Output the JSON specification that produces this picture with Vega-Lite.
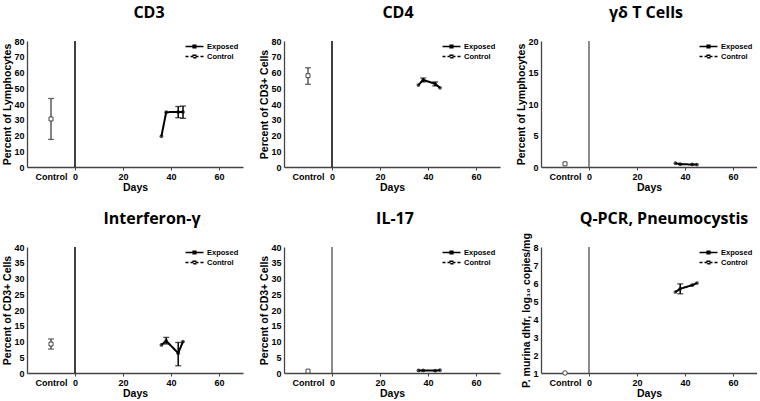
{
  "$schema": "https://vega.github.io/schema/vega-lite/v6.json",
  "padding": {"left": 2, "top": 5, "right": 0, "bottom": 0},
  "background": "white",
  "bounds": "flush",
  "columns": 3,
  "spacing": {"row": 80, "column": 41},
  "datasets": {
    "d": [
      {"p": "CD3", "s": "Control", "day": -10, "v": 30.5, "lo": 17.5, "hi": 43.5},
      {"p": "CD3", "s": "Exposed", "day": 36, "v": 19.5},
      {"p": "CD3", "s": "Exposed", "day": 38, "v": 34.8},
      {"p": "CD3", "s": "Exposed", "day": 43, "v": 35, "lo": 31.3, "hi": 38.4},
      {"p": "CD3", "s": "Exposed", "day": 45, "v": 35, "lo": 30.9, "hi": 38.7},
      {"p": "CD4", "s": "Control", "day": -10, "v": 58, "lo": 52.5, "hi": 63},
      {"p": "CD4", "s": "Exposed", "day": 36, "v": 52},
      {"p": "CD4", "s": "Exposed", "day": 38, "v": 55.3, "lo": 54, "hi": 56.5},
      {"p": "CD4", "s": "Exposed", "day": 43, "v": 52.8, "lo": 51.5, "hi": 54},
      {"p": "CD4", "s": "Exposed", "day": 45, "v": 50.3},
      {"p": "GD", "s": "Control", "day": -10, "v": 0.5},
      {"p": "GD", "s": "Exposed", "day": 36, "v": 0.6},
      {"p": "GD", "s": "Exposed", "day": 38, "v": 0.45},
      {"p": "GD", "s": "Exposed", "day": 43, "v": 0.4},
      {"p": "GD", "s": "Exposed", "day": 45, "v": 0.38},
      {"p": "IFN", "s": "Control", "day": -10, "v": 9.2, "lo": 7.6, "hi": 10.8},
      {"p": "IFN", "s": "Exposed", "day": 36, "v": 8.9},
      {"p": "IFN", "s": "Exposed", "day": 38, "v": 10.2, "lo": 9.2, "hi": 11.3},
      {"p": "IFN", "s": "Exposed", "day": 43, "v": 6.3, "lo": 2.3, "hi": 9.7},
      {"p": "IFN", "s": "Exposed", "day": 45, "v": 10},
      {"p": "IL17", "s": "Control", "day": -10, "v": 0.6},
      {"p": "IL17", "s": "Exposed", "day": 36, "v": 0.8},
      {"p": "IL17", "s": "Exposed", "day": 38, "v": 0.8},
      {"p": "IL17", "s": "Exposed", "day": 43, "v": 0.75},
      {"p": "IL17", "s": "Exposed", "day": 45, "v": 0.9},
      {"p": "QPCR", "s": "Control", "day": -10, "v": 1.0},
      {"p": "QPCR", "s": "Exposed", "day": 36, "v": 5.5},
      {"p": "QPCR", "s": "Exposed", "day": 38, "v": 5.68, "lo": 5.4, "hi": 5.95},
      {"p": "QPCR", "s": "Exposed", "day": 43, "v": 5.88},
      {"p": "QPCR", "s": "Exposed", "day": 45, "v": 6.0}
    ]
  },
  "concat": [
    {
      "title": {"text": "CD3", "dx": 14},
      "width": 216, "height": 126,
      "data": {"name": "d"},
      "transform": [{"filter": "datum.p === 'CD3'"}],
      "encoding": {"x": {"field": "day", "type": "quantitative", "scale": {"domain": [-20, 70], "nice": false, "zero": false}, "axis": {"title": "Days", "values": [-10, 0, 20, 40, 60], "labelExpr": "datum.value === -10 ? 'Control' : datum.label", "tickOpacity": {"condition": {"test": "datum.value === -10", "value": 0}, "value": 1}}}},
      "layer": [
        {"data": {"values": [{"day": 0}]}, "mark": {"type": "rule", "color": "black", "strokeWidth": 1.5}, "encoding": {}},
        {"transform": [{"filter": "isValid(datum.lo)"}], "mark": {"type": "rule"}, "encoding": {"y": {"field": "lo", "type": "quantitative", "scale": {"domain": [0, 80], "nice": false}, "axis": {"title": "Percent of Lymphocytes", "values": [0, 10, 20, 30, 40, 50, 60, 70, 80], "labelOverlap": false}}, "y2": {"field": "hi"}, "color": {"condition": {"test": "datum.s === 'Control'", "value": "#333"}, "value": "black"}, "strokeWidth": {"condition": {"test": "datum.s === 'Control'", "value": 1.2}, "value": 1.5}}},
        {"transform": [{"filter": "isValid(datum.lo)"}, {"fold": ["lo", "hi"], "as": ["k", "ev"]}], "mark": {"type": "tick", "orient": "horizontal", "size": 6, "thickness": 1.3}, "encoding": {"y": {"field": "ev", "type": "quantitative", "scale": {"domain": [0, 80], "nice": false}, "axis": {"title": "Percent of Lymphocytes", "values": [0, 10, 20, 30, 40, 50, 60, 70, 80], "labelOverlap": false}}, "color": {"condition": {"test": "datum.s === 'Control'", "value": "#333"}, "value": "black"}}},
        {"mark": {"type": "line", "color": "black", "strokeWidth": 2}, "encoding": {"y": {"field": "v", "type": "quantitative", "scale": {"domain": [0, 80], "nice": false}, "axis": {"title": "Percent of Lymphocytes", "values": [0, 10, 20, 30, 40, 50, 60, 70, 80], "labelOverlap": false}}, "strokeDash": {"field": "s", "type": "nominal", "scale": {"domain": ["Exposed", "Control"], "range": [[1, 0], [3, 2]]}, "legend": {"title": null, "orient": "none", "legendX": 162, "legendY": 0, "symbolType": "M-2,0H2M-0.3,-0.3H0.3V0.3H-0.3Z", "symbolSize": 81, "encode": {"symbols": {"update": {"fill": {"signal": "datum.value === 'Exposed' ? 'black' : 'white'"}, "stroke": {"value": "black"}, "strokeWidth": {"value": 1.5}, "opacity": {"value": 1}}}}}}}},
        {"transform": [{"filter": "datum.s === 'Exposed'"}], "mark": {"type": "point", "filled": true, "shape": "circle", "color": "black", "size": 14}, "encoding": {"y": {"field": "v", "type": "quantitative", "scale": {"domain": [0, 80], "nice": false}, "axis": {"title": "Percent of Lymphocytes", "values": [0, 10, 20, 30, 40, 50, 60, 70, 80], "labelOverlap": false}}}},
        {"transform": [{"filter": "datum.s === 'Control'"}], "mark": {"type": "point", "filled": true, "shape": "square", "fill": "white", "stroke": "#444", "strokeWidth": 1, "size": 16, "opacity": 1}, "encoding": {"y": {"field": "v", "type": "quantitative", "scale": {"domain": [0, 80], "nice": false}, "axis": {"title": "Percent of Lymphocytes", "values": [0, 10, 20, 30, 40, 50, 60, 70, 80], "labelOverlap": false}}}}
      ]
    },
    {
      "title": {"text": "CD4", "dx": 6},
      "width": 216, "height": 126,
      "data": {"name": "d"},
      "transform": [{"filter": "datum.p === 'CD4'"}],
      "encoding": {"x": {"field": "day", "type": "quantitative", "scale": {"domain": [-20, 70], "nice": false, "zero": false}, "axis": {"title": "Days", "values": [-10, 0, 20, 40, 60], "labelExpr": "datum.value === -10 ? 'Control' : datum.label", "tickOpacity": {"condition": {"test": "datum.value === -10", "value": 0}, "value": 1}}}},
      "layer": [
        {"data": {"values": [{"day": 0}]}, "mark": {"type": "rule", "color": "black", "strokeWidth": 1.5}, "encoding": {}},
        {"transform": [{"filter": "isValid(datum.lo)"}], "mark": {"type": "rule"}, "encoding": {"y": {"field": "lo", "type": "quantitative", "scale": {"domain": [0, 80], "nice": false}, "axis": {"title": "Percent of CD3+ Cells", "values": [0, 10, 20, 30, 40, 50, 60, 70, 80], "labelOverlap": false}}, "y2": {"field": "hi"}, "color": {"condition": {"test": "datum.s === 'Control'", "value": "#333"}, "value": "black"}, "strokeWidth": {"condition": {"test": "datum.s === 'Control'", "value": 1.2}, "value": 1.5}}},
        {"transform": [{"filter": "isValid(datum.lo)"}, {"fold": ["lo", "hi"], "as": ["k", "ev"]}], "mark": {"type": "tick", "orient": "horizontal", "size": 6, "thickness": 1.3}, "encoding": {"y": {"field": "ev", "type": "quantitative", "scale": {"domain": [0, 80], "nice": false}, "axis": {"title": "Percent of CD3+ Cells", "values": [0, 10, 20, 30, 40, 50, 60, 70, 80], "labelOverlap": false}}, "color": {"condition": {"test": "datum.s === 'Control'", "value": "#333"}, "value": "black"}}},
        {"mark": {"type": "line", "color": "black", "strokeWidth": 2}, "encoding": {"y": {"field": "v", "type": "quantitative", "scale": {"domain": [0, 80], "nice": false}, "axis": {"title": "Percent of CD3+ Cells", "values": [0, 10, 20, 30, 40, 50, 60, 70, 80], "labelOverlap": false}}, "strokeDash": {"field": "s", "type": "nominal", "scale": {"domain": ["Exposed", "Control"], "range": [[1, 0], [3, 2]]}, "legend": {"title": null, "orient": "none", "legendX": 162, "legendY": 0, "symbolType": "M-2,0H2M-0.3,-0.3H0.3V0.3H-0.3Z", "symbolSize": 81, "encode": {"symbols": {"update": {"fill": {"signal": "datum.value === 'Exposed' ? 'black' : 'white'"}, "stroke": {"value": "black"}, "strokeWidth": {"value": 1.5}, "opacity": {"value": 1}}}}}}}},
        {"transform": [{"filter": "datum.s === 'Exposed'"}], "mark": {"type": "point", "filled": true, "shape": "circle", "color": "black", "size": 14}, "encoding": {"y": {"field": "v", "type": "quantitative", "scale": {"domain": [0, 80], "nice": false}, "axis": {"title": "Percent of CD3+ Cells", "values": [0, 10, 20, 30, 40, 50, 60, 70, 80], "labelOverlap": false}}}},
        {"transform": [{"filter": "datum.s === 'Control'"}], "mark": {"type": "point", "filled": true, "shape": "square", "fill": "white", "stroke": "#444", "strokeWidth": 1, "size": 16, "opacity": 1}, "encoding": {"y": {"field": "v", "type": "quantitative", "scale": {"domain": [0, 80], "nice": false}, "axis": {"title": "Percent of CD3+ Cells", "values": [0, 10, 20, 30, 40, 50, 60, 70, 80], "labelOverlap": false}}}}
      ]
    },
    {
      "title": {"text": "γδ T Cells", "dx": -3},
      "width": 216, "height": 126,
      "data": {"name": "d"},
      "transform": [{"filter": "datum.p === 'GD'"}],
      "encoding": {"x": {"field": "day", "type": "quantitative", "scale": {"domain": [-20, 70], "nice": false, "zero": false}, "axis": {"title": "Days", "values": [-10, 0, 20, 40, 60], "labelExpr": "datum.value === -10 ? 'Control' : datum.label", "tickOpacity": {"condition": {"test": "datum.value === -10", "value": 0}, "value": 1}}}},
      "layer": [
        {"data": {"values": [{"day": 0}]}, "mark": {"type": "rule", "color": "#666", "strokeWidth": 1.5}, "encoding": {}},
        {"mark": {"type": "line", "color": "black", "strokeWidth": 2}, "encoding": {"y": {"field": "v", "type": "quantitative", "scale": {"domain": [0, 20], "nice": false}, "axis": {"title": "Percent of Lymphocytes", "values": [0, 5, 10, 15, 20], "labelOverlap": false}}, "strokeDash": {"field": "s", "type": "nominal", "scale": {"domain": ["Exposed", "Control"], "range": [[1, 0], [3, 2]]}, "legend": {"title": null, "orient": "none", "legendX": 162, "legendY": 0, "symbolType": "M-2,0H2M-0.3,-0.3H0.3V0.3H-0.3Z", "symbolSize": 81, "encode": {"symbols": {"update": {"fill": {"signal": "datum.value === 'Exposed' ? 'black' : 'white'"}, "stroke": {"value": "black"}, "strokeWidth": {"value": 1.5}, "opacity": {"value": 1}}}}}}}},
        {"transform": [{"filter": "datum.s === 'Exposed'"}], "mark": {"type": "point", "filled": true, "shape": "circle", "color": "black", "size": 14}, "encoding": {"y": {"field": "v", "type": "quantitative", "scale": {"domain": [0, 20], "nice": false}, "axis": {"title": "Percent of Lymphocytes", "values": [0, 5, 10, 15, 20], "labelOverlap": false}}}},
        {"transform": [{"filter": "datum.s === 'Control'"}], "mark": {"type": "point", "filled": true, "shape": "square", "fill": "white", "stroke": "#444", "strokeWidth": 1, "size": 16, "opacity": 1}, "encoding": {"y": {"field": "v", "type": "quantitative", "scale": {"domain": [0, 20], "nice": false}, "axis": {"title": "Percent of Lymphocytes", "values": [0, 5, 10, 15, 20], "labelOverlap": false}}}}
      ]
    },
    {
      "title": {"text": "Interferon-γ", "dx": 17},
      "width": 216, "height": 126,
      "data": {"name": "d"},
      "transform": [{"filter": "datum.p === 'IFN'"}],
      "encoding": {"x": {"field": "day", "type": "quantitative", "scale": {"domain": [-20, 70], "nice": false, "zero": false}, "axis": {"title": "Days", "values": [-10, 0, 20, 40, 60], "labelExpr": "datum.value === -10 ? 'Control' : datum.label", "tickOpacity": {"condition": {"test": "datum.value === -10", "value": 0}, "value": 1}}}},
      "layer": [
        {"data": {"values": [{"day": 0}]}, "mark": {"type": "rule", "color": "black", "strokeWidth": 1.5}, "encoding": {}},
        {"transform": [{"filter": "isValid(datum.lo)"}], "mark": {"type": "rule"}, "encoding": {"y": {"field": "lo", "type": "quantitative", "scale": {"domain": [0, 40], "nice": false}, "axis": {"title": "Percent of CD3+ Cells", "values": [0, 5, 10, 15, 20, 25, 30, 35, 40], "labelOverlap": false}}, "y2": {"field": "hi"}, "color": {"condition": {"test": "datum.s === 'Control'", "value": "#333"}, "value": "black"}, "strokeWidth": {"condition": {"test": "datum.s === 'Control'", "value": 1.2}, "value": 1.5}}},
        {"transform": [{"filter": "isValid(datum.lo)"}, {"fold": ["lo", "hi"], "as": ["k", "ev"]}], "mark": {"type": "tick", "orient": "horizontal", "size": 6, "thickness": 1.3}, "encoding": {"y": {"field": "ev", "type": "quantitative", "scale": {"domain": [0, 40], "nice": false}, "axis": {"title": "Percent of CD3+ Cells", "values": [0, 5, 10, 15, 20, 25, 30, 35, 40], "labelOverlap": false}}, "color": {"condition": {"test": "datum.s === 'Control'", "value": "#333"}, "value": "black"}}},
        {"mark": {"type": "line", "color": "black", "strokeWidth": 2}, "encoding": {"y": {"field": "v", "type": "quantitative", "scale": {"domain": [0, 40], "nice": false}, "axis": {"title": "Percent of CD3+ Cells", "values": [0, 5, 10, 15, 20, 25, 30, 35, 40], "labelOverlap": false}}, "strokeDash": {"field": "s", "type": "nominal", "scale": {"domain": ["Exposed", "Control"], "range": [[1, 0], [3, 2]]}, "legend": {"title": null, "orient": "none", "legendX": 162, "legendY": 0, "symbolType": "M-2,0H2M-0.3,-0.3H0.3V0.3H-0.3Z", "symbolSize": 81, "encode": {"symbols": {"update": {"fill": {"signal": "datum.value === 'Exposed' ? 'black' : 'white'"}, "stroke": {"value": "black"}, "strokeWidth": {"value": 1.5}, "opacity": {"value": 1}}}}}}}},
        {"transform": [{"filter": "datum.s === 'Exposed'"}], "mark": {"type": "point", "filled": true, "shape": "circle", "color": "black", "size": 14}, "encoding": {"y": {"field": "v", "type": "quantitative", "scale": {"domain": [0, 40], "nice": false}, "axis": {"title": "Percent of CD3+ Cells", "values": [0, 5, 10, 15, 20, 25, 30, 35, 40], "labelOverlap": false}}}},
        {"transform": [{"filter": "datum.s === 'Control'"}], "mark": {"type": "point", "filled": true, "shape": "square", "fill": "white", "stroke": "#444", "strokeWidth": 1, "size": 16, "opacity": 1}, "encoding": {"y": {"field": "v", "type": "quantitative", "scale": {"domain": [0, 40], "nice": false}, "axis": {"title": "Percent of CD3+ Cells", "values": [0, 5, 10, 15, 20, 25, 30, 35, 40], "labelOverlap": false}}}}
      ]
    },
    {
      "title": {"text": "IL-17", "dx": 3},
      "width": 216, "height": 126,
      "data": {"name": "d"},
      "transform": [{"filter": "datum.p === 'IL17'"}],
      "encoding": {"x": {"field": "day", "type": "quantitative", "scale": {"domain": [-20, 70], "nice": false, "zero": false}, "axis": {"title": "Days", "values": [-10, 0, 20, 40, 60], "labelExpr": "datum.value === -10 ? 'Control' : datum.label", "tickOpacity": {"condition": {"test": "datum.value === -10", "value": 0}, "value": 1}}}},
      "layer": [
        {"data": {"values": [{"day": 0}]}, "mark": {"type": "rule", "color": "#666", "strokeWidth": 1.5}, "encoding": {}},
        {"mark": {"type": "line", "color": "black", "strokeWidth": 2}, "encoding": {"y": {"field": "v", "type": "quantitative", "scale": {"domain": [0, 40], "nice": false}, "axis": {"title": "Percent of CD3+ Cells", "values": [0, 5, 10, 15, 20, 25, 30, 35, 40], "labelOverlap": false}}, "strokeDash": {"field": "s", "type": "nominal", "scale": {"domain": ["Exposed", "Control"], "range": [[1, 0], [3, 2]]}, "legend": {"title": null, "orient": "none", "legendX": 162, "legendY": 0, "symbolType": "M-2,0H2M-0.3,-0.3H0.3V0.3H-0.3Z", "symbolSize": 81, "encode": {"symbols": {"update": {"fill": {"signal": "datum.value === 'Exposed' ? 'black' : 'white'"}, "stroke": {"value": "black"}, "strokeWidth": {"value": 1.5}, "opacity": {"value": 1}}}}}}}},
        {"transform": [{"filter": "datum.s === 'Exposed'"}], "mark": {"type": "point", "filled": true, "shape": "circle", "color": "black", "size": 14}, "encoding": {"y": {"field": "v", "type": "quantitative", "scale": {"domain": [0, 40], "nice": false}, "axis": {"title": "Percent of CD3+ Cells", "values": [0, 5, 10, 15, 20, 25, 30, 35, 40], "labelOverlap": false}}}},
        {"transform": [{"filter": "datum.s === 'Control'"}], "mark": {"type": "point", "filled": true, "shape": "square", "fill": "white", "stroke": "#444", "strokeWidth": 1, "size": 16, "opacity": 1}, "encoding": {"y": {"field": "v", "type": "quantitative", "scale": {"domain": [0, 40], "nice": false}, "axis": {"title": "Percent of CD3+ Cells", "values": [0, 5, 10, 15, 20, 25, 30, 35, 40], "labelOverlap": false}}}}
      ]
    },
    {
      "title": {"text": "Q-PCR, Pneumocystis", "dx": 15, "offset": 6},
      "width": 216, "height": 126,
      "data": {"name": "d"},
      "transform": [{"filter": "datum.p === 'QPCR'"}],
      "encoding": {"x": {"field": "day", "type": "quantitative", "scale": {"domain": [-20, 70], "nice": false, "zero": false}, "axis": {"title": "Days", "values": [-10, 0, 20, 40, 60], "labelExpr": "datum.value === -10 ? 'Control' : datum.label", "tickOpacity": {"condition": {"test": "datum.value === -10", "value": 0}, "value": 1}}}},
      "layer": [
        {"data": {"values": [{"day": 0}]}, "mark": {"type": "rule", "color": "#666", "strokeWidth": 1.5}, "encoding": {}},
        {"transform": [{"filter": "isValid(datum.lo)"}], "mark": {"type": "rule", "color": "black", "strokeWidth": 1.5}, "encoding": {"y": {"field": "lo", "type": "quantitative", "scale": {"domain": [1, 8], "nice": false, "zero": false}, "axis": {"title": "P. murina dhfr, log₁₀ copies/mg", "values": [1, 2, 3, 4, 5, 6, 7, 8], "labelOverlap": false}}, "y2": {"field": "hi"}}},
        {"transform": [{"filter": "isValid(datum.lo)"}, {"fold": ["lo", "hi"], "as": ["k", "ev"]}], "mark": {"type": "tick", "orient": "horizontal", "size": 6, "thickness": 1.3, "color": "black"}, "encoding": {"y": {"field": "ev", "type": "quantitative", "scale": {"domain": [1, 8], "nice": false, "zero": false}, "axis": {"title": "P. murina dhfr, log₁₀ copies/mg", "values": [1, 2, 3, 4, 5, 6, 7, 8], "labelOverlap": false}}}},
        {"mark": {"type": "line", "color": "black", "strokeWidth": 2}, "encoding": {"y": {"field": "v", "type": "quantitative", "scale": {"domain": [1, 8], "nice": false, "zero": false}, "axis": {"title": "P. murina dhfr, log₁₀ copies/mg", "values": [1, 2, 3, 4, 5, 6, 7, 8], "labelOverlap": false}}, "strokeDash": {"field": "s", "type": "nominal", "scale": {"domain": ["Exposed", "Control"], "range": [[1, 0], [3, 2]]}, "legend": {"title": null, "orient": "none", "legendX": 162, "legendY": 0, "symbolType": "M-2,0H2M-0.3,-0.3H0.3V0.3H-0.3Z", "symbolSize": 81, "encode": {"symbols": {"update": {"fill": {"signal": "datum.value === 'Exposed' ? 'black' : 'white'"}, "stroke": {"value": "black"}, "strokeWidth": {"value": 1.5}, "opacity": {"value": 1}}}}}}}},
        {"transform": [{"filter": "datum.s === 'Exposed'"}], "mark": {"type": "point", "filled": true, "shape": "circle", "color": "black", "size": 14}, "encoding": {"y": {"field": "v", "type": "quantitative", "scale": {"domain": [1, 8], "nice": false, "zero": false}, "axis": {"title": "P. murina dhfr, log₁₀ copies/mg", "values": [1, 2, 3, 4, 5, 6, 7, 8], "labelOverlap": false}}}},
        {"transform": [{"filter": "datum.s === 'Control'"}], "mark": {"type": "point", "filled": true, "shape": "circle", "fill": "white", "stroke": "#444", "strokeWidth": 1, "size": 20, "opacity": 1}, "encoding": {"y": {"field": "v", "type": "quantitative", "scale": {"domain": [1, 8], "nice": false, "zero": false}, "axis": {"title": "P. murina dhfr, log₁₀ copies/mg", "values": [1, 2, 3, 4, 5, 6, 7, 8], "labelOverlap": false}}}}
      ]
    }
  ],
  "resolve": {
    "scale": {"x": "independent", "y": "independent", "strokeDash": "independent"},
    "axis": {"x": "independent", "y": "independent"},
    "legend": {"strokeDash": "independent"}
  },
  "config": {
    "view": {"stroke": null},
    "font": "Liberation Sans",
    "title": {"font": "Open Sans", "fontSize": 16, "fontWeight": "bold", "color": "black", "offset": 16, "anchor": "middle", "frame": "group"},
    "axis": {"labelFont": "Liberation Sans", "labelFontWeight": "bold", "labelFontSize": 9, "labelColor": "black", "labelOverlap": false, "titleFont": "Liberation Sans", "titleFontSize": 10.5, "titleFontWeight": "bold", "titleColor": "black", "grid": false, "domainColor": "#444", "domainWidth": 1.3, "tickColor": "#444"},
    "axisY": {"ticks": false, "tickSize": 0, "labelPadding": 3, "titlePadding": 1},
    "axisX": {"tickSize": 3, "labelPadding": 2, "titlePadding": 1, "labelFlush": false},
    "legend": {"padding": 0, "labelFont": "Liberation Sans", "labelFontSize": 7.5, "labelFontWeight": "bold", "labelColor": "black", "labelOffset": 7, "rowPadding": -1}
  }
}
